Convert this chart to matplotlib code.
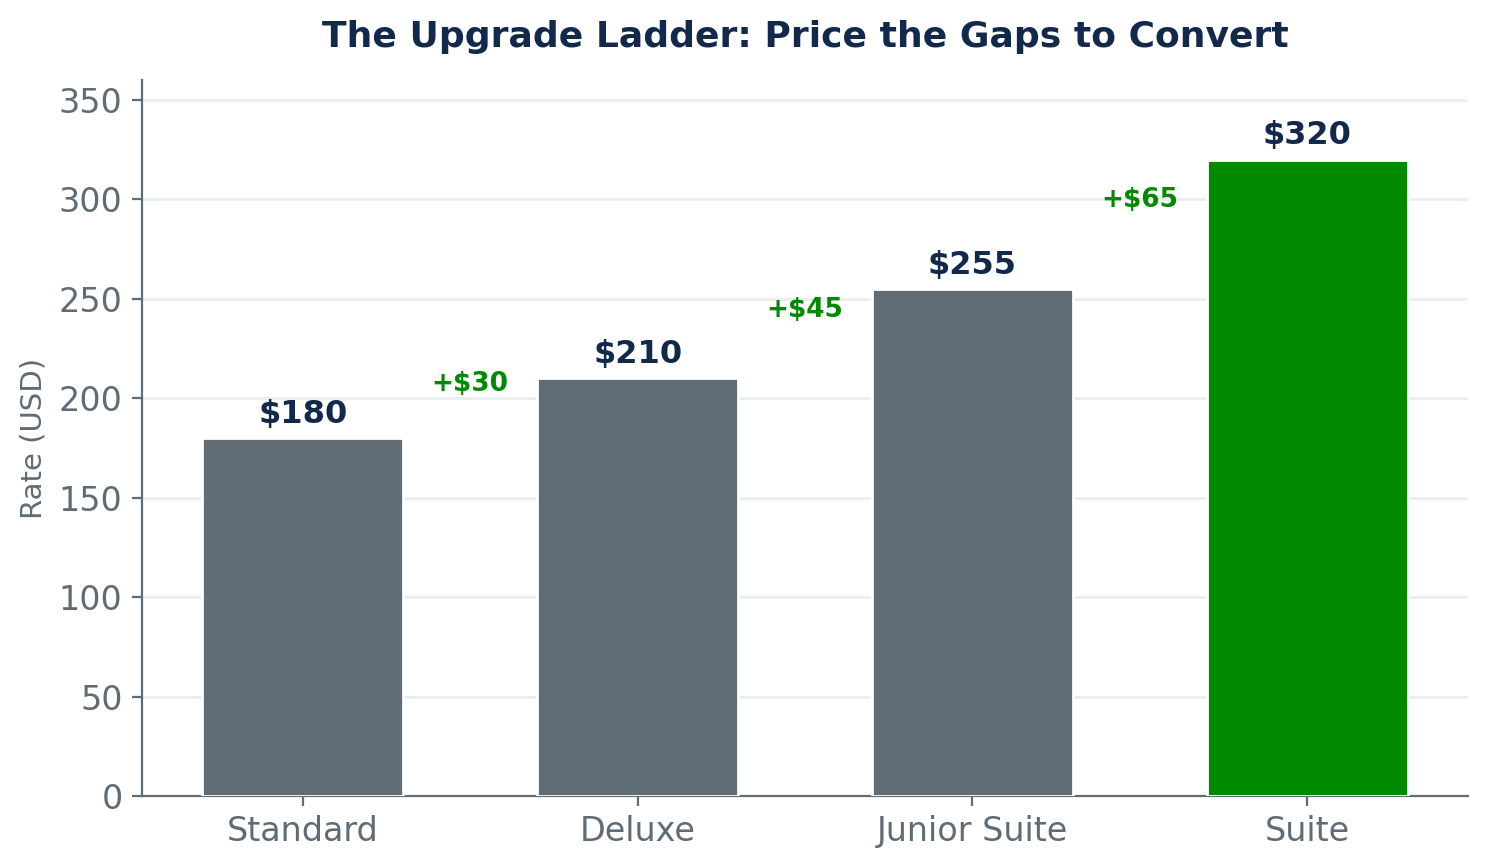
import matplotlib
matplotlib.use("Agg")
import matplotlib.pyplot as plt

# Room types and nightly rates
rooms = ["Standard", "Deluxe", "Junior Suite", "Suite"]
rates = [180, 210, 255, 320]
bar_colors = ["#5f6b75", "#5f6b75", "#5f6b75", "#008a00"]

navy = "#13294b"
gray = "#5f6b75"
green = "#008a00"

fig, ax = plt.subplots(figsize=(7.44, 4.34), dpi=200)
fig.subplots_adjust(left=0.0954, right=0.9866, bottom=0.0829, top=0.9078)

x = range(len(rooms))
bars = ax.bar(x, rates, width=0.6, color=bar_colors, edgecolor="white",
              linewidth=1.0, zorder=3)

# value labels on top of bars
for i, v in enumerate(rates):
    ax.annotate(f"${v}", (i, v), xytext=(0, 3), textcoords="offset points",
                ha="center", va="bottom", fontsize=11.5, fontweight="bold",
                color=navy)

# price gap labels between bars
for i in range(len(rates) - 1):
    gap = rates[i + 1] - rates[i]
    mid = (rates[i] + rates[i + 1]) / 2
    ax.text(i + 0.5, mid + 12, f"+${gap}", ha="center", va="center",
            fontsize=9.5, fontweight="bold", color=green, zorder=4)

ax.set_ylim(0, 360)
ax.set_xticks(list(x))
ax.set_xticklabels(rooms)
ax.set_yticks(range(0, 351, 50))
ax.tick_params(axis="both", colors=gray, labelsize=12)
ax.set_ylabel("Rate (USD)", color=gray, fontsize=10.5)
ax.set_title("The Upgrade Ladder: Price the Gaps to Convert", fontsize=13,
             fontweight="bold", color=navy, pad=12)

ax.yaxis.grid(True, color="#e8eef0", linewidth=1, zorder=0)
ax.set_axisbelow(True)
for side in ["top", "right"]:
    ax.spines[side].set_visible(False)
for side in ["left", "bottom"]:
    ax.spines[side].set_color(gray)

fig.savefig("out.png", dpi=200)
